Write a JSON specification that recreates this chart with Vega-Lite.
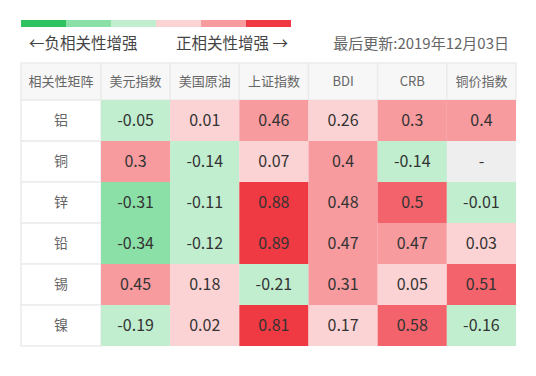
{
  "$schema": "https://vega.github.io/schema/vega-lite/v6.json",
  "padding": {"left": 20, "top": 20, "right": 5, "bottom": 5},
  "background": "white",
  "bounds": "flush",
  "spacing": 36,
  "config": {"view": {"stroke": null}, "font": "Noto Sans CJK SC"},
  "datasets": {
    "legend": [
      {"level": "-3"}, {"level": "-2"}, {"level": "-1"},
      {"level": "1"}, {"level": "2"}, {"level": "3"}
    ],
    "notes": [
      {"note": "←负相关性增强", "level": "-3", "kind": "left"},
      {"note": "正相关性增强 →", "level": "3", "kind": "right"},
      {"note": "最后更新:2019年12月03日", "level": "3", "kind": "date"}
    ],
    "corner": [{"title": "相关性矩阵"}],
    "columns": [
      {"col": "美元指数"}, {"col": "美国原油"}, {"col": "上证指数"},
      {"col": "BDI"}, {"col": "CRB"}, {"col": "铜价指数"}
    ],
    "metals": [
      {"metal": "铝"}, {"metal": "铜"}, {"metal": "锌"},
      {"metal": "铅"}, {"metal": "锡"}, {"metal": "镍"}
    ],
    "cells": [
      {"metal": "铝", "col": "美元指数", "value": -0.05},
      {"metal": "铝", "col": "美国原油", "value": 0.01},
      {"metal": "铝", "col": "上证指数", "value": 0.46},
      {"metal": "铝", "col": "BDI", "value": 0.26},
      {"metal": "铝", "col": "CRB", "value": 0.3},
      {"metal": "铝", "col": "铜价指数", "value": 0.4},
      {"metal": "铜", "col": "美元指数", "value": 0.3},
      {"metal": "铜", "col": "美国原油", "value": -0.14},
      {"metal": "铜", "col": "上证指数", "value": 0.07},
      {"metal": "铜", "col": "BDI", "value": 0.4},
      {"metal": "铜", "col": "CRB", "value": -0.14},
      {"metal": "铜", "col": "铜价指数", "value": null},
      {"metal": "锌", "col": "美元指数", "value": -0.31},
      {"metal": "锌", "col": "美国原油", "value": -0.11},
      {"metal": "锌", "col": "上证指数", "value": 0.88},
      {"metal": "锌", "col": "BDI", "value": 0.48},
      {"metal": "锌", "col": "CRB", "value": 0.5},
      {"metal": "锌", "col": "铜价指数", "value": -0.01},
      {"metal": "铅", "col": "美元指数", "value": -0.34},
      {"metal": "铅", "col": "美国原油", "value": -0.12},
      {"metal": "铅", "col": "上证指数", "value": 0.89},
      {"metal": "铅", "col": "BDI", "value": 0.47},
      {"metal": "铅", "col": "CRB", "value": 0.47},
      {"metal": "铅", "col": "铜价指数", "value": 0.03},
      {"metal": "锡", "col": "美元指数", "value": 0.45},
      {"metal": "锡", "col": "美国原油", "value": 0.18},
      {"metal": "锡", "col": "上证指数", "value": -0.21},
      {"metal": "锡", "col": "BDI", "value": 0.31},
      {"metal": "锡", "col": "CRB", "value": 0.05},
      {"metal": "锡", "col": "铜价指数", "value": 0.51},
      {"metal": "镍", "col": "美元指数", "value": -0.19},
      {"metal": "镍", "col": "美国原油", "value": 0.02},
      {"metal": "镍", "col": "上证指数", "value": 0.81},
      {"metal": "镍", "col": "BDI", "value": 0.17},
      {"metal": "镍", "col": "CRB", "value": 0.58},
      {"metal": "镍", "col": "铜价指数", "value": -0.16}
    ]
  },
  "vconcat": [
    {
      "width": 270,
      "height": 7,
      "layer": [
        {
          "data": {"name": "legend"},
          "mark": {"type": "rect"},
          "encoding": {
            "x": {"field": "level", "type": "nominal", "sort": null, "scale": {"domain": ["-3", "-2", "-1", "1", "2", "3"], "paddingInner": 0, "paddingOuter": 0}, "axis": null},
            "color": {"field": "level", "type": "nominal", "scale": {"domain": ["-3", "-2", "-1", "1", "2", "3"], "range": ["#2ec35f", "#8be0a8", "#c0eecf", "#fcd3d4", "#f79b9f", "#ef3a43"]}, "legend": null}
          }
        },
        {
          "data": {"name": "notes"},
          "transform": [{"filter": "datum.kind == 'left'"}],
          "mark": {"type": "text", "align": "left", "baseline": "middle", "dx": 8, "dy": 20, "fontSize": 15.5, "color": "#444"},
          "encoding": {
            "x": {"field": "level", "type": "nominal", "bandPosition": 0},
            "text": {"field": "note", "type": "nominal"}
          }
        },
        {
          "data": {"name": "notes"},
          "transform": [{"filter": "datum.kind == 'right'"}],
          "mark": {"type": "text", "align": "right", "baseline": "middle", "dx": -3, "dy": 20, "fontSize": 15.5, "color": "#444"},
          "encoding": {
            "x": {"field": "level", "type": "nominal", "bandPosition": 1},
            "text": {"field": "note", "type": "nominal"}
          }
        },
        {
          "data": {"name": "notes"},
          "transform": [{"filter": "datum.kind == 'date'"}],
          "mark": {"type": "text", "align": "right", "baseline": "middle", "dx": 218, "dy": 20, "fontSize": 15, "color": "#666"},
          "encoding": {
            "x": {"field": "level", "type": "nominal", "bandPosition": 1},
            "text": {"field": "note", "type": "nominal"}
          }
        }
      ]
    },
    {
      "columns": 2,
      "spacing": 0,
      "bounds": "flush",
      "concat": [
        {
          "width": 80,
          "height": 37,
          "data": {"name": "corner"},
          "layer": [
            {"mark": {"type": "rect", "fill": "#f7f7f7", "stroke": "#ebebeb", "strokeWidth": 1.5}, "encoding": {}},
            {"mark": {"type": "text", "fontSize": 13, "color": "#666"}, "encoding": {"text": {"field": "title", "type": "nominal"}}}
          ]
        },
        {
          "width": 415,
          "height": 37,
          "data": {"name": "columns"},
          "encoding": {
            "x": {"field": "col", "type": "nominal", "sort": null, "scale": {"domain": ["美元指数", "美国原油", "上证指数", "BDI", "CRB", "铜价指数"], "paddingInner": 0, "paddingOuter": 0}, "axis": null}
          },
          "layer": [
            {"mark": {"type": "rect", "fill": "#f7f7f7", "stroke": "#ebebeb", "strokeWidth": 1.5}},
            {"mark": {"type": "text", "fontSize": 13, "color": "#666"}, "encoding": {"text": {"field": "col", "type": "nominal"}}}
          ]
        },
        {
          "width": 80,
          "height": 246,
          "data": {"name": "metals"},
          "encoding": {
            "y": {"field": "metal", "type": "nominal", "sort": null, "scale": {"domain": ["铝", "铜", "锌", "铅", "锡", "镍"], "paddingInner": 0, "paddingOuter": 0}, "axis": null}
          },
          "layer": [
            {"mark": {"type": "rect", "fill": "#ffffff", "stroke": "#ebebeb", "strokeWidth": 1.5}},
            {"mark": {"type": "text", "fontSize": 14, "color": "#666"}, "encoding": {"text": {"field": "metal", "type": "nominal"}}}
          ]
        },
        {
          "width": 415,
          "height": 246,
          "data": {"name": "cells"},
          "encoding": {
            "x": {"field": "col", "type": "nominal", "sort": null, "scale": {"domain": ["美元指数", "美国原油", "上证指数", "BDI", "CRB", "铜价指数"], "paddingInner": 0, "paddingOuter": 0}, "axis": null},
            "y": {"field": "metal", "type": "nominal", "sort": null, "scale": {"domain": ["铝", "铜", "锌", "铅", "锡", "镍"], "paddingInner": 0, "paddingOuter": 0}, "axis": null}
          },
          "layer": [
            {"mark": {"type": "rect", "fill": "#eeeeee"}},
            {
              "transform": [{"filter": "datum.value != null"}],
              "mark": {"type": "rect"},
              "encoding": {
                "color": {"field": "value", "type": "quantitative", "scale": {"type": "threshold", "domain": [-0.5, -0.3, 0, 0.3, 0.5, 0.8], "range": ["#2ec35f", "#8be0a8", "#c0eecf", "#fcd3d4", "#f79b9f", "#f2636b", "#ef3a43"]}, "legend": null}
              }
            },
            {
              "mark": {"type": "text", "fontSize": 16, "color": "#333"},
              "encoding": {
                "text": {"condition": {"test": "datum.value == null", "value": "-"}, "field": "value", "type": "nominal"}
              }
            }
          ]
        }
      ],
      "resolve": {"scale": {"x": "independent", "y": "independent", "color": "independent"}}
    }
  ],
  "resolve": {"scale": {"x": "independent", "y": "independent", "color": "independent"}}
}
